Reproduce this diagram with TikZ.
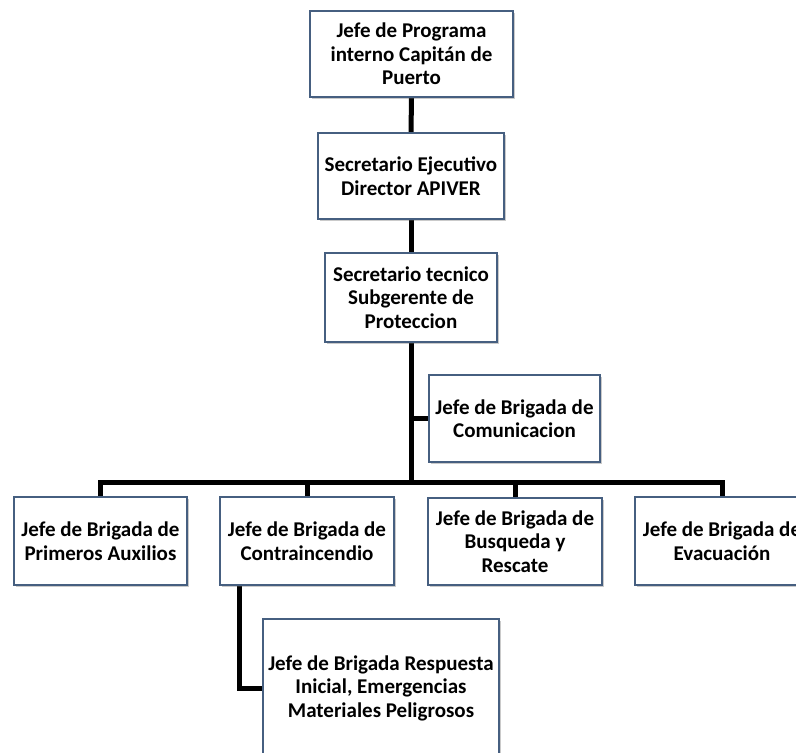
\documentclass[tikz,border=0pt]{standalone}
\usepackage{fontspec}
\setmainfont{Carlito}
\usetikzlibrary{shadows,backgrounds}
\definecolor{boxline}{RGB}{70,95,128}
\tikzset{
  box/.style={draw=boxline, line width=1.5pt, fill=white, rectangle,
    align=center, inner sep=1pt,
    font=\fontsize{21}{23.5}\selectfont\bfseries,
    drop shadow={shadow xshift=2pt, shadow yshift=-2pt, opacity=0.35, fill=black!60}},
  conn/.style={draw=black, line width=5pt}
}
\begin{document}
\begin{tikzpicture}[x=1pt,y=-1pt]
\useasboundingbox (0,0) rectangle (796,753);
\clip (0,0) rectangle (796,753);
\node[box, minimum width=203pt, minimum height=86pt] (b1) at (411.5,54) {Jefe de Programa\\interno Capitán de\\Puerto};
\node[box, minimum width=186pt, minimum height=86pt] (b2) at (411,176) {Secretario Ejecutivo\\Director APIVER};
\node[box, minimum width=172pt, minimum height=89pt] (b3) at (411,297.5) {Secretario tecnico\\Subgerente de\\Proteccion};
\node[box, minimum width=171pt, minimum height=87pt] (bc) at (514.5,418.5) {Jefe de Brigada de\\Comunicacion};
\node[box, minimum width=173pt, minimum height=88pt] (p1) at (100.5,541) {Jefe de Brigada de\\Primeros Auxilios};
\node[box, minimum width=174pt, minimum height=88pt] (p2) at (307,541) {Jefe de Brigada de\\Contraincendio};
\node[box, minimum width=174pt, minimum height=87pt] (p3) at (515,541.5) {Jefe de Brigada de\\Busqueda y\\Rescate};
\node[box, minimum width=174pt, minimum height=88pt] (p4) at (722,541) {Jefe de Brigada de\\Evacuación};
\node[box, minimum width=236pt, minimum height=138pt] (p5) at (381,688) {Jefe de Brigada Respuesta\\Inicial, Emergencias\\Materiales Peligrosos};
\coordinate (bus) at (411,482);
\coordinate (p2drop) at (239,585);
\begin{scope}[on background layer]
\draw[conn] (b1.south) -- (b2.north);
\draw[conn] (b2.south) -- (b3.north);
\draw[conn] (b3.south) -- (bus);
\draw[conn] (b3.south |- bc.west) -- (bc.west);
\draw[conn] (p1.north) |- (bus) -| (p4.north);
\draw[conn] (p2.north) -- (p2.north |- bus);
\draw[conn] (p3.north) -- (p3.north |- bus);
\draw[conn] (p2drop) |- (p5.west);
\end{scope}
\end{tikzpicture}
\end{document}
